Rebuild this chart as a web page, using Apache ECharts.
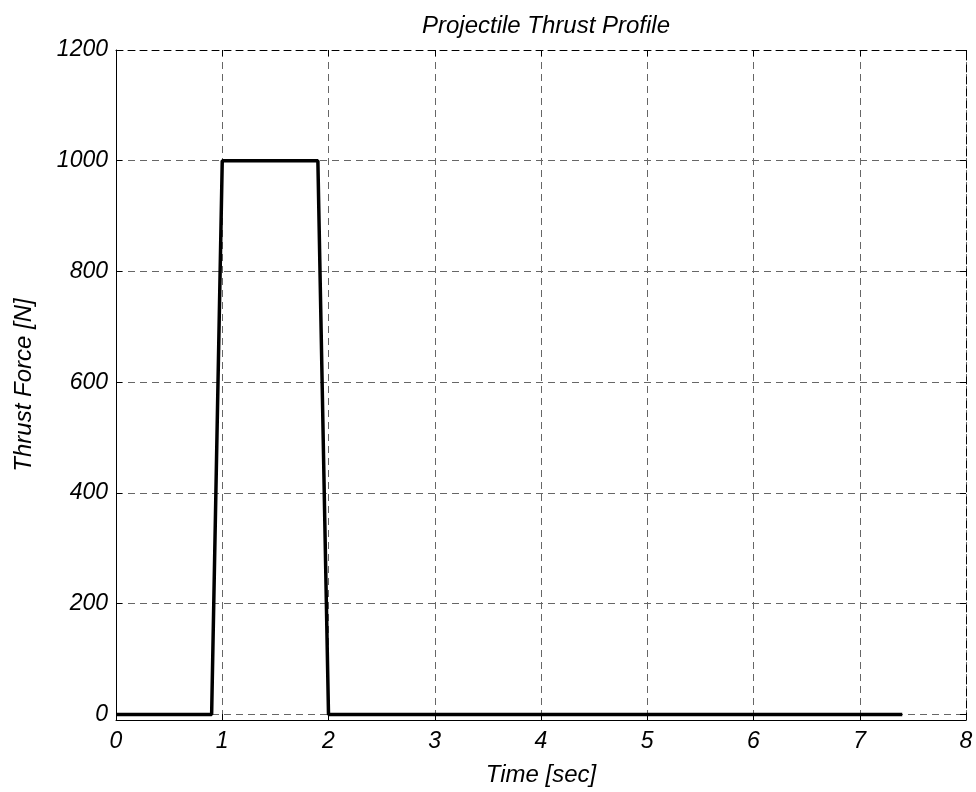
<!DOCTYPE html>
<html>
<head>
<meta charset="UTF-8">
<title>Projectile Thrust Profile</title>
<script src="https://cdn.jsdelivr.net/npm/echarts@6/dist/echarts.min.js"></script>
<style type="text/css">
body{margin:0;padding:0;background:#fff;}
#main{width:976px;height:792px;}
</style>
</head>
<body>
<div id="main"></div>
<script type="text/javascript">
// data: time [sec] and thrust [N]
var timeSec = [0, 0.9, 1.0, 1.9, 2.0, 7.4];
var thrustN = [0, 0, 1000, 1000, 0, 0];
var xTicks = [0, 1, 2, 3, 4, 5, 6, 7, 8];
var yTicks = [0, 200, 400, 600, 800, 1000, 1200];

var FONT = 'Liberation Sans, Arial, sans-serif';
var chart = echarts.init(document.getElementById('main'));

var labelStyle = {
    color: '#000',
    fontFamily: FONT,
    fontStyle: 'italic',
    fontSize: 23,
    formatter: function (v) { return String(v); }
};
var gridDash = {show: true, lineStyle: {color: '#666', type: [7, 5], width: 1}};

chart.setOption({
    animation: false,
    backgroundColor: '#fff',
    title: {
        text: 'Projectile Thrust Profile',
        left: 541,
        top: 9,
        textAlign: 'center',
        textStyle: {color: '#000', fontFamily: FONT, fontStyle: 'italic', fontWeight: 'normal', fontSize: 24}
    },
    grid: {left: 116, right: 10, top: 50, bottom: 72},
    xAxis: [{
        type: 'value',
        min: 0, max: 8,
        name: 'Time [sec]',
        nameLocation: 'middle',
        nameGap: 43,
        nameTextStyle: {color: '#000', fontFamily: FONT, fontStyle: 'italic', fontSize: 24},
        axisLine: {show: true, onZero: false, lineStyle: {color: '#000', width: 1}},
        axisTick: {show: true, inside: true, length: 6, customValues: xTicks, lineStyle: {color: '#000'}},
        axisLabel: Object.assign({margin: 10, customValues: xTicks}, labelStyle),
        splitLine: gridDash
    }, {
        type: 'value',
        position: 'top',
        min: 0, max: 8,
        axisLine: {show: true, onZero: false, lineStyle: {color: '#000', width: 1, type: [7, 5]}},
        axisTick: {show: true, inside: true, length: 6, customValues: xTicks, lineStyle: {color: '#000'}},
        axisLabel: {show: false},
        splitLine: {show: false}
    }],
    yAxis: [{
        type: 'value',
        min: -10, max: 1200,
        name: 'Thrust Force [N]',
        nameLocation: 'middle',
        nameGap: 80,
        nameTextStyle: {color: '#000', fontFamily: FONT, fontStyle: 'italic', fontSize: 24},
        axisLine: {show: true, onZero: false, lineStyle: {color: '#000', width: 1}},
        axisTick: {show: true, inside: true, length: 6, customValues: yTicks, lineStyle: {color: '#000'}},
        axisLabel: Object.assign({margin: 8, customValues: yTicks}, labelStyle),
        splitLine: gridDash
    }, {
        type: 'value',
        position: 'right',
        min: -10, max: 1200,
        axisLine: {show: true, onZero: false, lineStyle: {color: '#000', width: 1, type: [7, 5]}},
        axisTick: {show: true, inside: true, length: 6, customValues: yTicks, lineStyle: {color: '#000'}},
        axisLabel: {show: false},
        splitLine: {show: false}
    }],
    series: [{
        name: 'Thrust',
        type: 'line',
        xAxisIndex: 0,
        yAxisIndex: 0,
        symbol: 'none',
        lineStyle: {color: '#000', width: 3.5},
        data: timeSec.map(function (t, i) { return [t, thrustN[i]]; })
    }]
});
</script>
</body>
</html>
